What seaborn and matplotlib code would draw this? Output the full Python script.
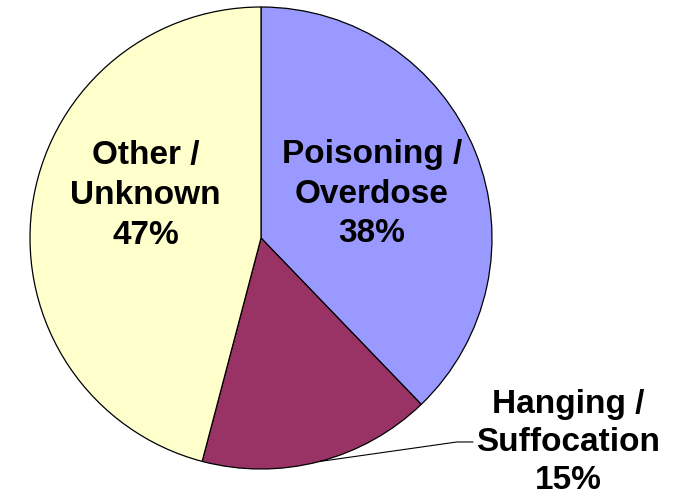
import numpy as np
import matplotlib
matplotlib.use("Agg")
import matplotlib.pyplot as plt
import seaborn as sns

# datos del grafico
categorias = ["Poisoning /\nOverdose", "Hanging /\nSuffocation", "Other /\nUnknown"]
# tamano de cada sector
valores = [37.8, 16.3, 45.9]
# porcentajes tal como aparecen escritos en las etiquetas
porcentajes = [38, 15, 47]
colores = ["#9999FF", "#993366", "#FFFFCC"]

sns.set_style("white")
plt.rcParams["font.family"] = ["Liberation Sans", "DejaVu Sans"]

fig = plt.figure(figsize=(6.73, 4.97), dpi=100)
# centro del pie en (261, 238) px, radio 231 px
r = 231
ax = fig.add_axes([(261 - r) / 673, (497 - 238 - r) / 497, 2 * r / 673, 2 * r / 497])

wedges, _ = ax.pie(valores, colors=colores, startangle=90, counterclock=False,
                   radius=1, wedgeprops={"edgecolor": "black", "linewidth": 0.9})
ax.set_xlim(-1, 1)
ax.set_ylim(-1, 1)
ax.axis("off")

etiquetas = [f"{c}\n{p}%" for c, p in zip(categorias, porcentajes)]
estilo = dict(ha="center", va="center", fontsize=24, fontweight="bold",
              linespacing=1.37, color="black")

# etiquetas dentro del pie
ax.text(0.48, 0.19, etiquetas[0], **estilo)
ax.text(-0.50, 0.185, etiquetas[2], **estilo)

# etiqueta externa con linea guia
w = wedges[1]
ang = np.deg2rad((w.theta1 + w.theta2) / 2)
x0, y0 = np.cos(ang), np.sin(ang)
ax.plot([x0, 0.848, 0.918], [y0, -0.883, -0.883], color="black", lw=0.8, clip_on=False)
estilo_ext = dict(estilo, linespacing=1.3)
ax.text(1.33, -0.885, etiquetas[1], clip_on=False, **estilo_ext)

fig.savefig("out.png", dpi=100)
